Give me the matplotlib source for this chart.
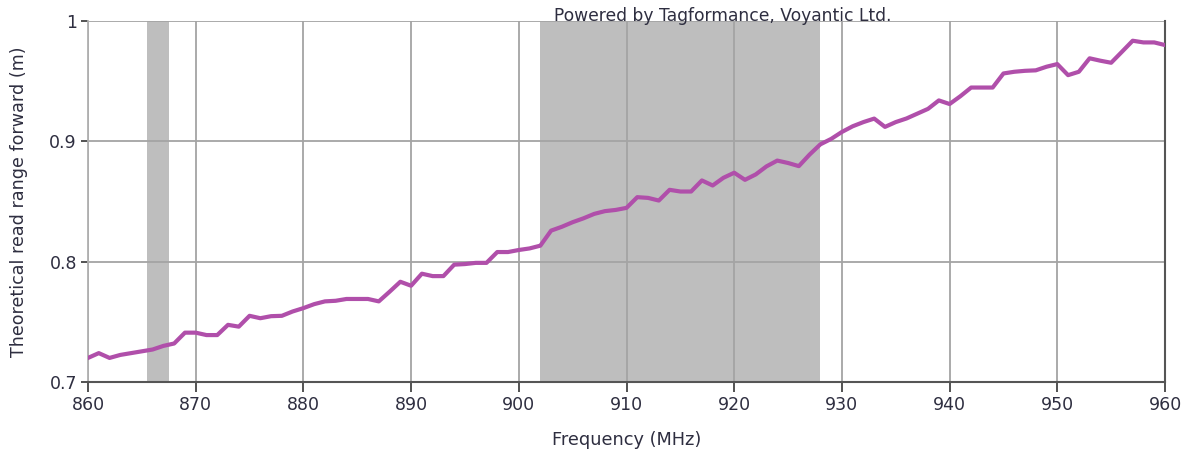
import matplotlib
matplotlib.use("Agg")
import matplotlib.pyplot as plt

freq_mhz = list(range(860, 961))
read_range_m = [
    0.720, 0.724, 0.720, 0.7225, 0.724, 0.7255, 0.727, 0.730, 0.732, 0.741,  # 860-869
    0.741, 0.739, 0.739, 0.7475, 0.746, 0.755, 0.753, 0.7547, 0.755, 0.7586,  # 870-879
    0.7614, 0.7647, 0.767, 0.7675, 0.769, 0.769, 0.769, 0.767, 0.775, 0.7833,  # 880-889
    0.780, 0.790, 0.788, 0.788, 0.7975, 0.798, 0.799, 0.799, 0.808, 0.808,  # 890-899
    0.8097, 0.811, 0.8133, 0.8258, 0.829, 0.8328, 0.836, 0.8397, 0.842, 0.843,  # 900-909
    0.8447, 0.8536, 0.853, 0.8508, 0.8597, 0.8583, 0.8583, 0.8675, 0.8633, 0.8697,  # 910-919
    0.8739, 0.868, 0.8725, 0.8792, 0.884, 0.882, 0.8794, 0.889, 0.8975, 0.902,  # 920-929
    0.9078, 0.9125, 0.916, 0.9189, 0.912, 0.916, 0.919, 0.923, 0.927, 0.934,  # 930-939
    0.931, 0.9375, 0.9447, 0.9447, 0.9447, 0.9564, 0.9578, 0.9586, 0.959, 0.962,  # 940-949
    0.9642, 0.955, 0.9578, 0.969, 0.967, 0.9653, 0.9744, 0.9836, 0.9822, 0.9822,  # 950-959
    0.980,  # 960
]
shaded_bands = [(865.5, 867.5), (902.0, 928.0)]
x_ticks = list(range(860, 961, 10))
y_ticks = [0.7, 0.8, 0.9, 1.0]
y_tick_labels = ["0.7", "0.8", "0.9", "1"]

W, H, DPI = 1186, 454, 100
fig = plt.figure(figsize=(W / DPI, H / DPI), dpi=DPI)
ax = fig.add_axes([88 / W, 1 - 382 / H, (1165 - 88) / W, (382 - 21) / H])

text_color = "#2E2E40"
for lo, hi in shaded_bands:
    ax.axvspan(lo, hi, color="#BEBEBE", lw=0, zorder=0)

ax.plot(freq_mhz, read_range_m, color="#B04FAA", lw=3.0, zorder=3,
        solid_joinstyle="round")

ax.set_xlim(860, 960)
ax.set_ylim(0.7, 1.0)
ax.set_xticks(x_ticks)
ax.set_yticks(y_ticks)
ax.set_yticklabels(y_tick_labels)
ax.grid(True, color="#A4A4A4", lw=1.3, zorder=1)
ax.set_axisbelow(True)

ax.spines["top"].set_visible(False)
ax.spines["left"].set_color("#B0B0B0")
ax.spines["left"].set_linewidth(1.3)
ax.spines["bottom"].set_color("#555555")
ax.spines["bottom"].set_linewidth(1.5)
ax.spines["right"].set_color("#555555")
ax.spines["right"].set_linewidth(1.5)

ax.tick_params(axis="both", direction="out", length=5, width=1.3,
               color="#444444", labelcolor=text_color, labelsize=12.5, pad=3)
ax.tick_params(axis="x", length=7, pad=3)

ax.set_xlabel("Frequency (MHz)", fontsize=12.8, color=text_color, labelpad=12)
ax.set_ylabel("Theoretical read range forward (m)", fontsize=12.6,
              color=text_color, labelpad=15)
fig.text(723 / W, 1 - 16 / H, "Powered by Tagformance, Voyantic Ltd.",
         ha="center", va="center", fontsize=12.3, color=text_color)

fig.savefig("out.png", dpi=DPI)
